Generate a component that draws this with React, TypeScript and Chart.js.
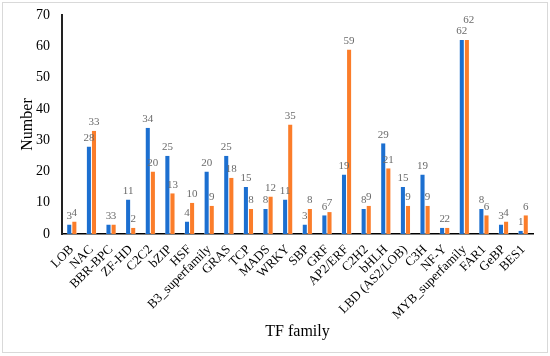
import React, { useEffect, useRef } from "react";
import { Chart, registerables } from "chart.js";

Chart.register(...registerables);

const categories = [
  "LOB", "NAC", "BBR-BPC", "ZF-HD", "C2C2", "bZIP", "HSF", "B3_superfamily",
  "GRAS", "TCP", "MADS", "WRKY", "SBP", "GRF", "AP2/ERF", "C2H2", "bHLH",
  "LBD (AS2/LOB)", "C3H", "NF-Y", "MYB_superfamily", "FAR1", "GeBP", "BES1",
];
const seriesBlue = [3, 28, 3, 11, 34, 25, 4, 20, 25, 15, 8, 11, 3, 6, 19, 8, 29, 15, 19, 2, 62, 8, 3, 1];
const seriesOrange = [4, 33, 3, 2, 20, 13, 10, 9, 18, 8, 12, 35, 8, 7, 59, 9, 21, 9, 9, 2, 62, 6, 4, 6];
const yTicks = [0, 10, 20, 30, 40, 50, 60, 70];

const SERIF = "'Liberation Serif', 'Times New Roman', serif";

const framePlugin = {
  id: "frame",
  beforeDraw(chart: any) {
    const ctx = chart.ctx;
    ctx.save();
    ctx.fillStyle = "#ffffff";
    ctx.fillRect(0, 0, chart.width, chart.height);
    ctx.strokeStyle = "#d9d9d9";
    ctx.lineWidth = 1;
    ctx.strokeRect(2.5, 2.5, 545, 350);
    ctx.restore();
  },
};

const labelPlugin = {
  id: "barLabels",
  afterDatasetsDraw(chart: any) {
    const ctx = chart.ctx;
    ctx.save();
    ctx.font = `11px ${SERIF}`;
    ctx.fillStyle = "#6b6b6b";
    ctx.textAlign = "center";
    ctx.textBaseline = "bottom";
    const m0 = chart.getDatasetMeta(0);
    const m1 = chart.getDatasetMeta(1);
    const d0 = chart.data.datasets[0].data;
    const d1 = chart.data.datasets[1].data;
    for (let j = 0; j < d0.length; j++) {
      const a = m0.data[j];
      const b = m1.data[j];
      const ta = String(d0[j]);
      const tb = String(d1[j]);
      const ya = a.y - 3;
      let yb = b.y - 3;
      let xb = b.x;
      const wa = ctx.measureText(ta).width;
      const wb = ctx.measureText(tb).width;
      const overlapX = Math.abs(a.x - b.x) < (wa + wb) / 2 - 1;
      if (overlapX && Math.abs(ya - yb) < 10) {
        yb = Math.min(ya, yb) - 11;
        xb = b.x + 2;
      }
      ctx.fillText(ta, a.x, ya);
      ctx.fillText(tb, xb, yb);
    }
    ctx.restore();
  },
};

export default function App() {
  const ref = useRef<HTMLCanvasElement | null>(null);
  useEffect(() => {
    if (!ref.current) return;
    const chart = new Chart(ref.current, {
      type: "bar",
      data: {
        labels: categories,
        datasets: [
          {
            label: "A",
            data: seriesBlue,
            backgroundColor: "#1c6fd0",
            borderColor: "#ffffff",
            borderWidth: { left: 0.5, right: 0.5, top: 0, bottom: 0 },
            categoryPercentage: 0.52,
            barPercentage: 1,
          },
          {
            label: "B",
            data: seriesOrange,
            backgroundColor: "#fb7d2a",
            borderColor: "#ffffff",
            borderWidth: { left: 0.5, right: 0.5, top: 0, bottom: 0 },
            categoryPercentage: 0.52,
            barPercentage: 1,
          },
        ],
      },
      options: {
        animation: false,
        responsive: false,
        maintainAspectRatio: false,
        layout: { padding: { left: 10, right: 17, top: 15, bottom: 12 } },
        plugins: {
          legend: { display: false },
          tooltip: { enabled: false },
        },
        scales: {
          x: {
            grid: { display: false, drawTicks: false },
            border: { display: true, color: "#000000", width: 1.5 },
            ticks: {
              font: { family: SERIF, size: 13 },
              color: "#000000",
              maxRotation: 45,
              minRotation: 45,
              autoSkip: false,
              padding: 8,
            },
            title: {
              display: true,
              text: "TF family",
              font: { family: SERIF, size: 16 },
              color: "#000000",
              padding: { top: 0, bottom: 3 },
            },
            afterFit(scale: any) {
              scale.height = 110;
            },
          },
          y: {
            min: 0,
            max: 70,
            afterBuildTicks(scale: any) {
              scale.ticks = yTicks.map((v) => ({ value: v }));
            },
            grid: { display: false, drawTicks: false },
            border: { display: true, color: "#222222", width: 2 },
            ticks: {
              font: { family: SERIF, size: 14 },
              color: "#000000",
              padding: 12,
            },
            title: {
              display: true,
              text: "Number",
              font: { family: SERIF, size: 16 },
              color: "#000000",
              padding: { top: 8, bottom: 0 },
            },
            afterFit(scale: any) {
              scale.width = 52;
              scale.paddingTop = 0;
              scale.paddingBottom = 0;
            },
          },
        },
      },
      plugins: [framePlugin, labelPlugin],
    });
    return () => chart.destroy();
  }, []);
  return (
    <div style={{ position: "fixed", left: 0, top: 0, width: 550, height: 356 }}>
      <canvas ref={ref} width={550} height={356} style={{ display: "block" }} />
    </div>
  );
}
